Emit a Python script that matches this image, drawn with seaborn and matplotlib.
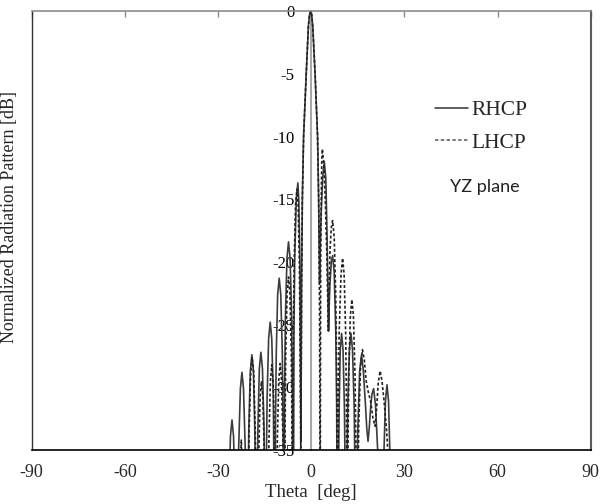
import pandas as pd
import seaborn as sns
import matplotlib.pyplot as plt
from matplotlib.lines import Line2D

# RHCP (solid), lobe by lobe (nulls fall below -35 and get clipped)
rhcp_theta = [-27.0, -26.75, -26.5, -26.0, -25.5, -25.0, -24.5, -24.25,
              -23.9, -23.6, -23.35, -22.8, -22.3, -21.8, -21.25, -21.0,
              -20.7, -20.35, -20.1, -19.6, -19.1, -18.6, -18.15, -17.9,
              -17.65, -17.4, -17.15, -16.7, -16.2, -15.7, -15.2, -14.95,
              -14.7, -14.45, -14.2, -13.7, -13.2, -12.7, -12.2, -12.0,
              -11.75, -11.5, -11.25, -10.8, -10.3, -9.8, -9.3, -9.05,
              -8.8, -8.55, -8.3, -7.8, -7.3, -6.8, -6.3, -6.05,
              -5.8, -5.55, -5.3, -4.8, -4.3, -4.0, -3.65, -3.5,
              -3.3, -3.1, -2.85, -2.45, -1.6, -0.9, -0.55, -0.2, 0.15, 0.5, 1.25, 2.05, 2.4,
              2.7, 2.95, 3.2, 3.7, 4.2, 4.7, 5.1, 5.35,
              5.6, 5.85, 6.1, 6.5, 6.9, 7.4, 7.9, 8.2,
              8.5, 8.75, 9.0, 9.35, 9.8, 10.25, 10.7, 10.95,
              11.2, 11.5, 11.75, 12.3, 12.8, 13.3, 13.85, 14.1,
              14.4, 14.7, 15.0, 15.6, 16.2, 16.8, 17.5, 17.9,
              18.3, 18.7, 19.2, 19.6, 20.1, 20.7, 21.5, 22.2,
              22.8, 23.05, 23.35, 23.9, 24.4, 24.9, 25.4, 25.65, 25.9]
rhcp_db = [-50, -44.3, -38.6, -33.9, -32.6, -33.9, -38.6, -44.3,
           -50, -40.5, -34.8, -30.1, -28.8, -30.1, -34.8, -40.5,
           -50, -39.1, -33.4, -28.7, -27.4, -28.7, -33.4, -39.1,
           -50, -38.9, -33.2, -28.5, -27.2, -28.5, -33.2, -38.9,
           -50, -36.5, -30.8, -26.1, -24.8, -26.1, -30.8, -36.5,
           -50, -33.0, -27.3, -22.6, -21.3, -22.6, -27.3, -33.0,
           -50, -30.1, -24.4, -19.7, -18.4, -19.7, -24.4, -30.1,
           -50, -25.4, -19.7, -15.0, -13.7, -15.0, -19.7, -25.4,
           -34.3, -22, -15, -10, -5, -1.2, -0.3, 0, -0.3, -1.2, -5, -10, -15,
           -21.7, -18.5, -16.2, -13.3, -12.0, -13.3, -17.8, -21.5,
           -25.5, -23.0, -21.5, -19.9, -19.5, -20.8, -25.5, -31.2,
           -50, -37.4, -31.7, -27.0, -25.7, -27.0, -31.7, -37.4,
           -50, -37.4, -31.7, -27.0, -25.7, -27.0, -31.7, -37.4,
           -50, -39.1, -33.4, -28.7, -27.4, -28.7, -31.5, -33.3,
           -34.3, -33.2, -31.4, -30.5, -30.1, -31.4, -35.5, -41,
           -50, -41.5, -35.8, -31.1, -29.8, -31.1, -35.8, -41.5, -50]

# LHCP (dashed)
lhcp_theta = [-23.0, -22.75, -22.5, -22.25, -22.0,
              -20.5, -20.25, -20.0, -19.5, -19.0, -18.5, -18.0, -17.75,
              -17.45, -17.15, -16.9, -16.45, -16.0, -15.55, -15.1, -14.85,
              -14.1, -13.85, -13.6, -13.15, -12.7, -12.25, -11.8, -11.6,
              -11.35, -11.1, -10.9, -10.45, -10.0, -9.55, -9.1, -8.9,
              -8.65, -8.4, -8.2, -7.75, -7.3, -6.85, -6.4, -6.2,
              -6.0, -5.75, -5.5, -5.05, -4.6, -4.2, -3.8, -3.6,
              -3.35, -3.1, -2.85, -2.45, -1.6, -0.9, -0.55, -0.2, 0.15, 0.5, 1.25, 2.05, 2.4, 2.7,
              2.9, 3.05, 3.2, 3.4, 3.6, 4.1, 4.6, 5.1,
              5.5, 5.8, 6.1, 6.5, 6.9, 7.4, 7.9, 8.2,
              8.5, 8.75, 9.0, 9.6, 10.1, 10.6, 11.1, 11.35,
              11.6, 11.85, 12.1, 12.6, 13.1, 13.6, 14.1, 14.4,
              14.7, 15.0, 15.3, 15.9, 16.5, 17.1, 17.7, 18.4, 19.2, 19.9,
              20.6, 21.1, 21.6, 22.2, 22.8, 23.5, 24.3, 25.0, 25.5, 25.9]
lhcp_db = [-45, -36, -34.2, -36, -45,
           -50, -39.3, -33.6, -28.9, -27.6, -28.9, -33.6, -39.3,
           -50, -41.2, -35.5, -30.8, -29.5, -30.8, -35.5, -41.2,
           -50, -39.9, -34.2, -29.5, -28.2, -29.5, -34.2, -39.9,
           -50, -39.8, -34.1, -29.4, -28.1, -29.4, -34.1, -39.8,
           -50, -32.9, -27.2, -22.5, -21.2, -22.5, -27.2, -32.9,
           -50, -25.9, -20.2, -15.5, -14.2, -15.5, -20.2, -25.9,
           -36, -22, -15, -10, -5, -1.2, -0.3, 0, -0.3, -1.2, -5, -10, -15, -24,
           -40, -20, -15.5, -12.0, -11.0, -12.3, -15.5, -20,
           -25.5, -21.5, -18.8, -17.2, -16.7, -18.0, -22.7, -28.4,
           -50, -31.4, -25.7, -21.0, -19.7, -21.0, -25.7, -31.4,
           -50, -34.7, -29.0, -24.3, -23.0, -24.3, -29.0, -34.7,
           -50, -38.7, -33.0, -28.3, -27.0, -27.8, -29.5, -30.4, -31.2, -32.5,
           -33.1, -31.5, -29.6, -28.7, -29.5, -31.2, -33.5, -36.5, -42, -50]

x_ticks = [-90, -60, -30, 0, 30, 60, 90]
y_ticks = [0, -5, -10, -15, -20, -25, -30, -35]

df = pd.concat([
    pd.DataFrame({'theta': rhcp_theta, 'db': rhcp_db, 'pol': 'RHCP'}),
    pd.DataFrame({'theta': lhcp_theta, 'db': lhcp_db, 'pol': 'LHCP'}),
])

sns.set_style('white')
plt.rcParams['font.family'] = ['Liberation Serif', 'DejaVu Serif']
plt.rcParams['axes.unicode_minus'] = False

fig = plt.figure(figsize=(6.09, 5.04), dpi=100)
ax = fig.add_axes([0.052, 0.107, 0.918, 0.871])

sns.lineplot(data=df, x='theta', y='db', style='pol', hue='pol',
             palette={'RHCP': '#3c3c3c', 'LHCP': '#222222'},
             dashes={'RHCP': '', 'LHCP': (1.8, 1.3)},
             estimator=None, sort=False, lw=1.2, legend=False, ax=ax)

ax.set_xlim(-90, 90)
ax.set_ylim(-35, 0)
ax.set_xticks(x_ticks)
ax.set_xticklabels([str(t) for t in x_ticks])
ax.set_yticks(y_ticks)
ax.set_yticklabels([str(t) for t in y_ticks])

# y axis drawn through theta = 0
ax.spines['left'].set_position(('data', 0))
ax.spines['left'].set_color('#a8a8a8')
ax.spines['left'].set_linewidth(1.5)
ax.spines['left'].set_zorder(0.5)
ax.spines['top'].set_color('#8c8c8c')
ax.spines['top'].set_linewidth(1.2)
ax.spines['right'].set_color('#5a5a5a')
ax.spines['right'].set_linewidth(1.5)
ax.spines['bottom'].set_color('black')
ax.spines['bottom'].set_linewidth(1.2)
# outer left edge of the frame
ax.plot([0, 0], [0, 1], transform=ax.transAxes, color='#333333', lw=1.0, clip_on=False)

ax.tick_params(axis='y', direction='out', length=4, width=1, color='#a8a8a8',
               pad=8, labelsize=12, labelcolor='black')
ax.tick_params(axis='x', bottom=False, top=True, direction='in', length=4, width=1,
               color='#8c8c8c', pad=10, labelsize=13)

ax.set_xlabel('Theta  [deg]', fontsize=13.5, labelpad=2)
ax.set_ylabel('Normalized Radiation Pattern [dB]', fontsize=13)
ax.yaxis.set_label_coords(-0.024, 0.532)

handles = [Line2D([], [], color='#333333', lw=1.1),
           Line2D([], [], color='#555555', lw=1.1, dashes=(2.2, 1.6))]
ax.legend(handles, ['RHCP', 'LHCP'], loc='upper left', bbox_to_anchor=(0.722, 0.797),
          frameon=False, fontsize=15.5, handlelength=1.5, handletextpad=0.2,
          borderpad=0, borderaxespad=0, labelspacing=0.58)

ax.text(0.81, 0.60, 'YZ plane', transform=ax.transAxes, ha='center', va='center',
        fontsize=13, family=['Lato', 'DejaVu Sans'], color='#222222')

plt.savefig('out.png', dpi=100)
